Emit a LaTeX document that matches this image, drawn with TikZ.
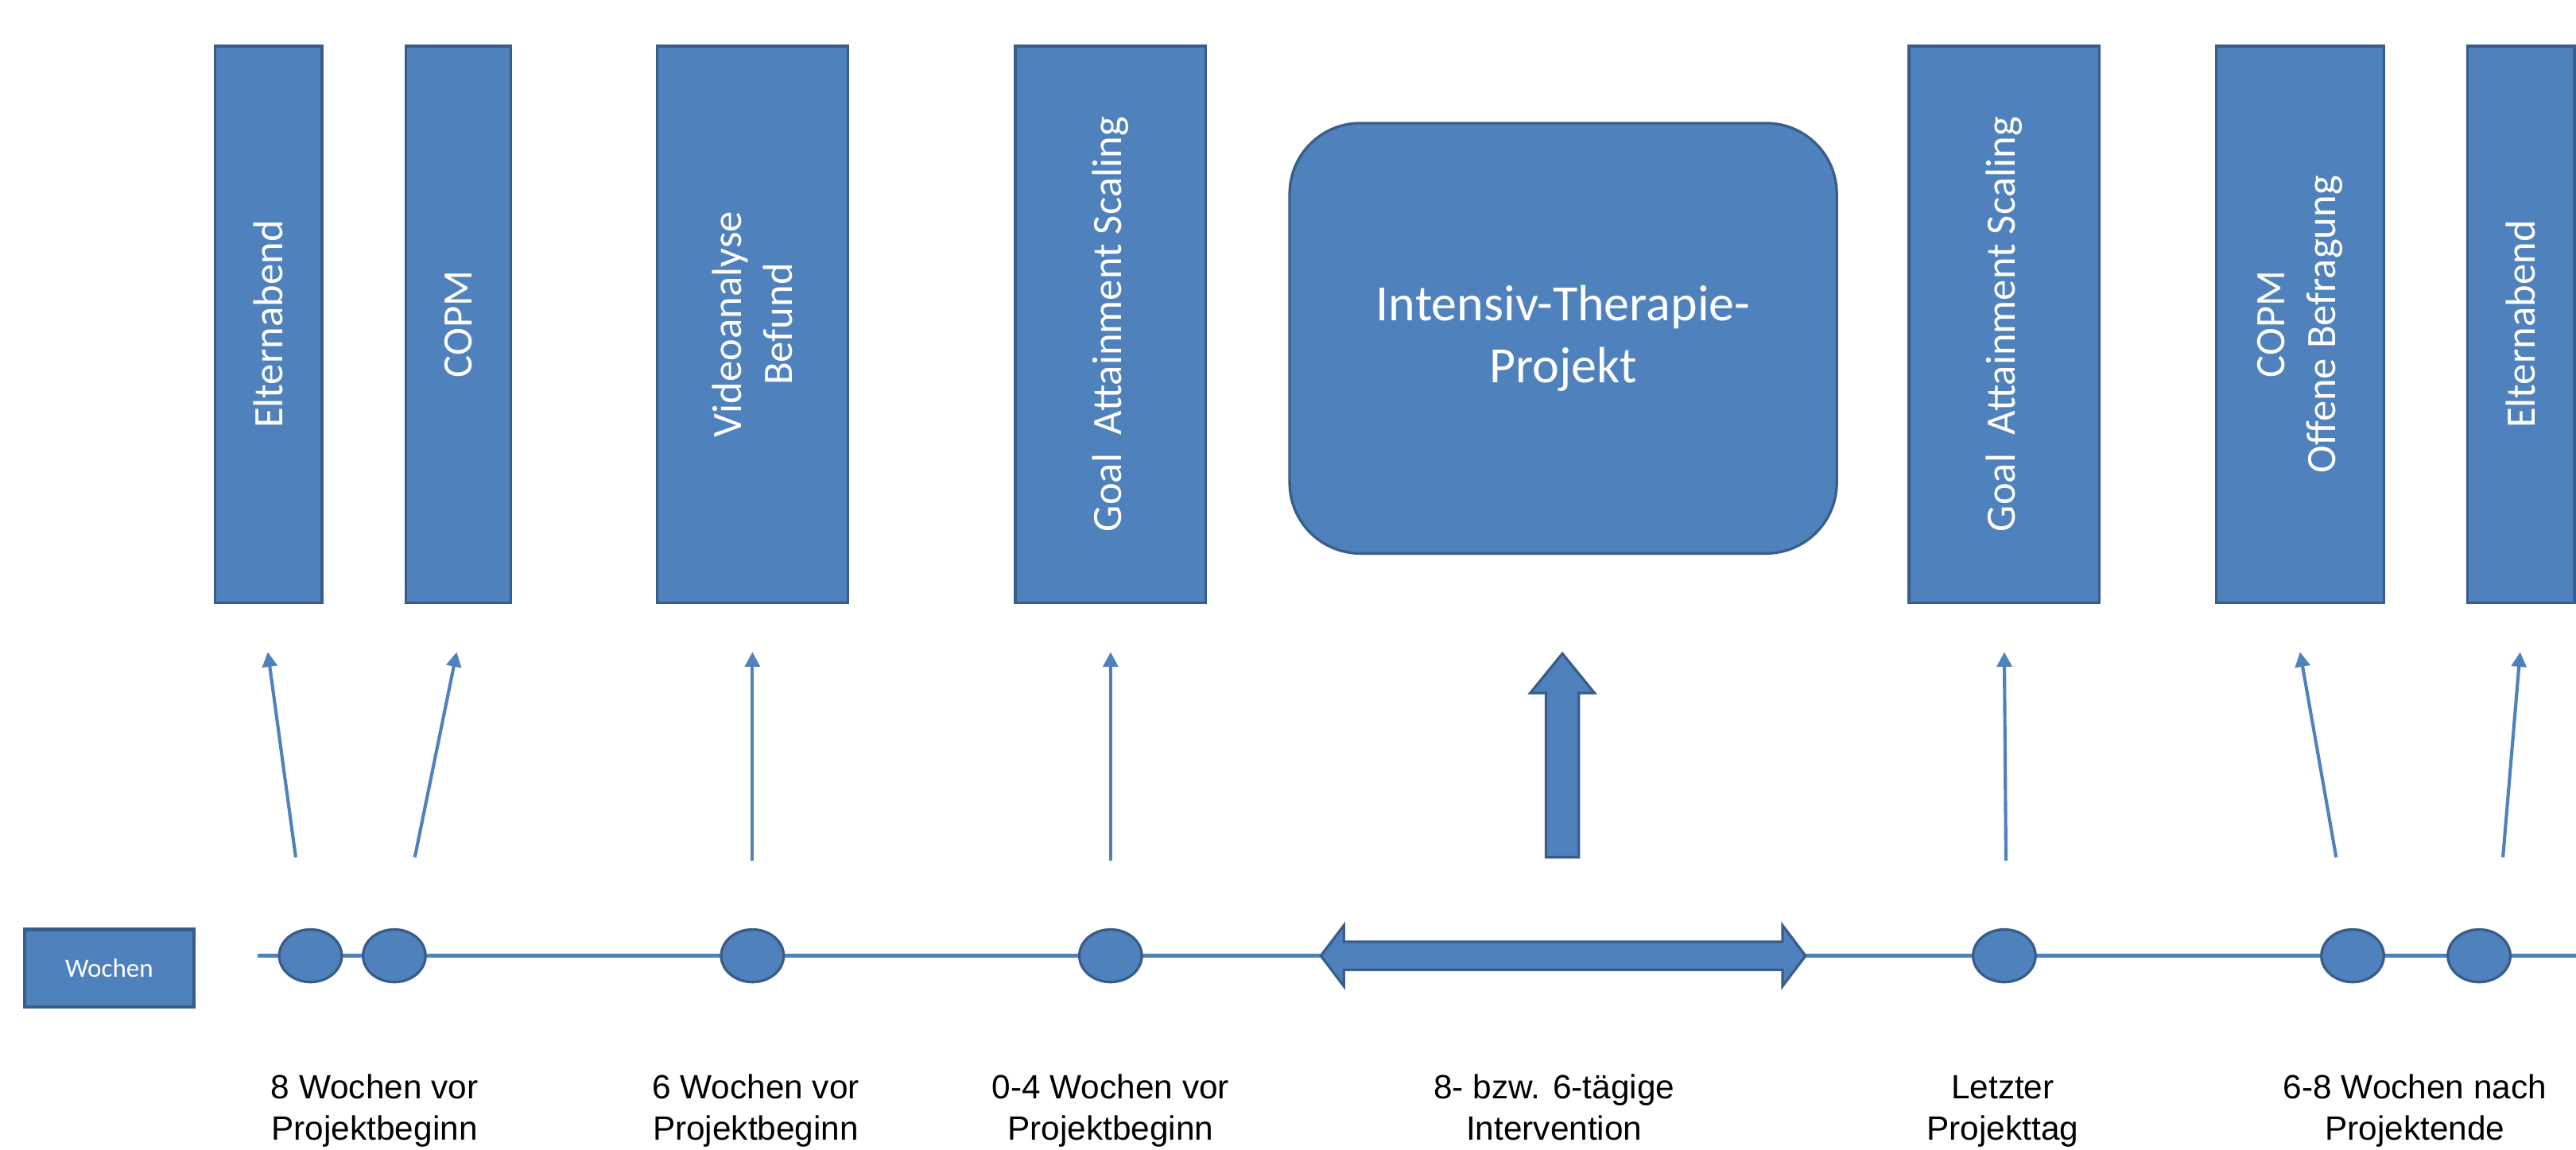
\documentclass[tikz,border=0pt]{standalone}
\usepackage{fontspec}
\setmainfont{Liberation Sans}
\newfontfamily\calib{Carlito}
\usetikzlibrary{arrows.meta,shapes.geometric}
\definecolor{fillblue}{HTML}{4F81BD}
\definecolor{edgeblue}{HTML}{385D8A}
\begin{document}
\begin{tikzpicture}[x=1pt,y=-1pt,
  bar/.style={draw=edgeblue, fill=fillblue, line width=1.6pt, text=white,
    inner sep=0pt, rotate=90, minimum width=339pt, align=center,
    font=\calib\fontsize{25.5}{31}\selectfont},
  bigbox/.style={draw=edgeblue, fill=fillblue, line width=1.6pt, text=white,
    inner sep=0pt, rounded corners=43pt, minimum width=333pt, minimum height=262pt,
    align=center, font=\calib\fontsize{31}{38}\selectfont},
  weekbox/.style={draw=edgeblue, fill=fillblue, line width=2pt, text=white,
    inner sep=0pt, minimum width=103pt, minimum height=47pt,
    font=\calib\fontsize{16}{19}\selectfont},
  dot/.style={ellipse, draw=edgeblue, fill=fillblue, line width=1.6pt,
    minimum width=38pt, minimum height=32pt, inner sep=0pt},
  timeline/.style={draw=fillblue, line width=2.5pt},
  pointer/.style={draw=fillblue, line width=2pt, -{Triangle[length=9pt,width=9pt]}},
  fat/.style={draw=edgeblue, fill=fillblue, line width=1.6pt, line join=miter},
  when/.style={align=center, inner sep=0pt, text=black, anchor=base,
    font=\fontsize{20.5}{25}\selectfont}
]
\useasboundingbox (0,0) rectangle (1568,700);

% measurement boxes along the top
\node[bar, minimum height=65pt]  (elt1) at (163.5,197.5) {Elternabend};
\node[bar, minimum height=64pt]  (copm1) at (279,197.5) {COPM};
\node[bar, minimum height=116pt] (video) at (458,197.5) {Videoanalyse\\Befund};
\node[bar, minimum height=116pt] (gas1) at (676,197.5) {Goal\ \ Attainment Scaling};
\node[bigbox] (itp) at (951.5,206) {Intensiv-Therapie-\\Projekt};
\node[bar, minimum height=116pt] (gas2) at (1220,197.5) {Goal\ \ Attainment Scaling};
\node[bar, minimum height=102pt] (copm2) at (1400,197.5) {COPM\\Offene Befragung};
\node[bar, minimum height=65pt]  (elt2) at (1534.5,197.5) {Elternabend};

% time axis
\coordinate (axL) at (157,582);
\coordinate (axR) at (1568,582);
\draw[timeline] (axL) -- (axR);

\node[weekbox] (weeks) at (66.5,589.5) {Wochen};

\node[dot] (d1) at (189,582) {};
\node[dot] (d2) at (240,582) {};
\node[dot] (d3) at (458,582) {};
\node[dot] (d4) at (676,582) {};
\node[dot] (d5) at (1220,582) {};
\node[dot] (d6) at (1432,582) {};
\node[dot] (d7) at (1509,582) {};

% intervention period
\draw[fat] (804,582) -- (818,563.5) -- (818,573.5) -- (1085,573.5) -- (1085,563.5)
  -- (1099,582) -- (1085,600.5) -- (1085,590.5) -- (818,590.5) -- (818,600.5) -- cycle;

% block arrow into the project box
\draw[fat] (951,398) -- (970.5,422) -- (961,422) -- (961,522) -- (941,522)
  -- (941,422) -- (931.5,422) -- cycle;

% thin pointers from the axis to the boxes
\coordinate (t1) at (180,522);  \coordinate (h1) at (163,397);
\coordinate (t2) at (252.5,522);\coordinate (h2) at (278,397);
\coordinate (t3) at (458,524);  \coordinate (h3) at (458,397);
\coordinate (t4) at (676,524);  \coordinate (h4) at (676,397);
\coordinate (t5) at (1221,524); \coordinate (h5) at (1220,397);
\coordinate (t6) at (1422,522); \coordinate (h6) at (1400,397);
\coordinate (t7) at (1523.5,522);\coordinate (h7) at (1534,397);
\foreach \i in {1,...,7} {\draw[pointer] (t\i) -- (h\i);}

% time labels (anchored on the baseline of the second line)
\node[when] (w1) at (228,694) {8 Wochen vor\\Projektbeginn};
\node[when] (w2) at (460,694) {6 Wochen vor\\Projektbeginn};
\node[when] (w3) at (676,694) {0-4 Wochen vor\\Projektbeginn};
\node[when] (w4) at (946,694) {8- bzw. 6-tägige\\Intervention};
\node[when] (w5) at (1219,694) {Letzter\\Projekttag};
\node[when] (w6) at (1470,694) {6-8 Wochen nach\\Projektende};
\end{tikzpicture}
\end{document}
